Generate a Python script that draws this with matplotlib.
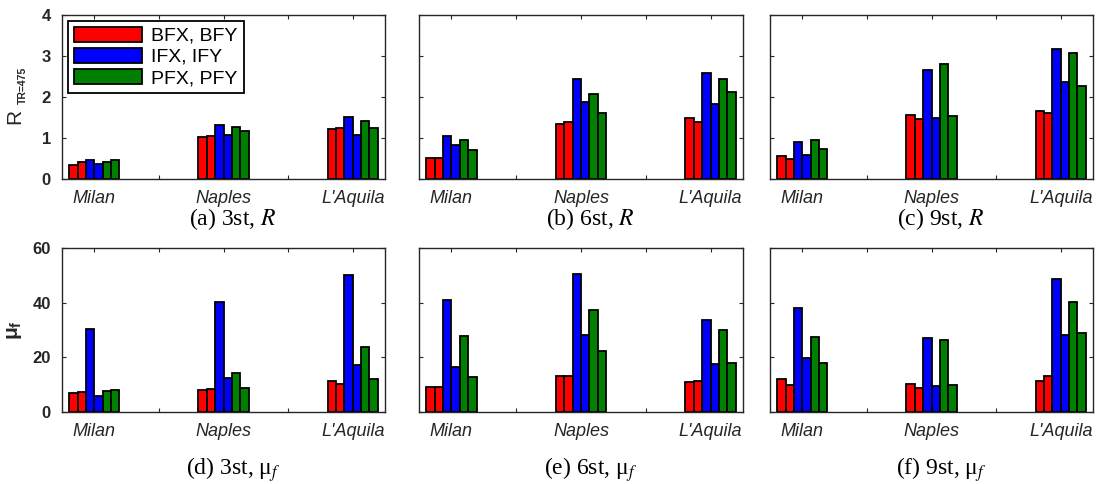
import matplotlib.pyplot as plt
import numpy as np
from matplotlib.patches import Patch

plt.rcParams['font.family'] = ['Liberation Sans', 'DejaVu Sans']
plt.rcParams['mathtext.fontset'] = 'custom'
plt.rcParams['mathtext.rm'] = 'Liberation Sans'
plt.rcParams['mathtext.it'] = 'Liberation Sans:italic'
plt.rcParams['mathtext.bf'] = 'Liberation Sans:bold'

###
# Data

cities = ['Milan', 'Naples', "L'Aquila"]
components = ['BFX', 'BFY', 'IFX', 'IFY', 'PFX', 'PFY']
legend_labels = ['BFX, BFY', 'IFX, IFY', 'PFX, PFY']

# R ratio, one row per city, columns in the order of components
r_3st = [[0.34, 0.41, 0.47, 0.37, 0.42, 0.47],
         [1.02, 1.06, 1.32, 1.07, 1.27, 1.18],
         [1.22, 1.25, 1.52, 1.07, 1.42, 1.24]]
r_6st = [[0.50, 0.51, 1.04, 0.82, 0.94, 0.70],
         [1.34, 1.38, 2.44, 1.88, 2.08, 1.60],
         [1.49, 1.40, 2.59, 1.83, 2.45, 2.12]]
r_9st = [[0.55, 0.48, 0.90, 0.59, 0.96, 0.74],
         [1.56, 1.47, 2.65, 1.48, 2.80, 1.54],
         [1.65, 1.60, 3.16, 2.36, 3.07, 2.26]]

# ductility demand mu_f
mu_3st = [[7.0, 7.3, 30.2, 6.0, 7.8, 8.2],
          [8.1, 8.3, 40.4, 12.4, 14.3, 8.6],
          [11.4, 10.3, 50.2, 17.1, 23.7, 12.0]]
mu_6st = [[9.2, 9.2, 41.0, 16.6, 27.8, 12.8],
          [13.0, 13.1, 50.5, 28.1, 37.2, 22.4],
          [11.1, 11.5, 33.5, 17.6, 30.1, 18.0]]
mu_9st = [[12.2, 9.8, 38.0, 19.6, 27.3, 18.0],
          [10.3, 8.6, 26.9, 9.4, 26.3, 9.7],
          [11.5, 13.2, 48.8, 28.1, 40.2, 28.9]]

panels = [
    (r_3st, '(a) 3st, $R$'), (r_6st, '(b) 6st, $R$'), (r_9st, '(c) 9st, $R$'),
    (mu_3st, '(d) 3st, μ$_f$'), (mu_6st, '(e) 6st, μ$_f$'), (mu_9st, '(f) 9st, μ$_f$'),
]

colors = ['#ff0000', '#ff0000', '#0000ff', '#0000ff', '#008000', '#008000']
textcol = '#262626'

###
# Plot

W, H = 1101, 484
fig = plt.figure(figsize=(W / 100, H / 100), dpi=100)

lefts = [62, 419, 770]
widths = [323, 324, 323]
tops = [15, 248]
height = 164

x = np.arange(1, len(cities) + 1)
bw = 0.065

for k, (vals, caption) in enumerate(panels):
    row, col = divmod(k, 3)
    ax = fig.add_axes([lefts[col] / W, 1 - (tops[row] + height) / H,
                       widths[col] / W, height / H])
    vals = np.array(vals)
    for j in range(len(components)):
        ax.bar(x + (j - 2.5) * bw, vals[:, j], width=bw, color=colors[j],
               edgecolor='black', linewidth=1.3, zorder=2)

    ax.set_xlim(0.75, 3.25)
    if row == 0:
        ax.set_ylim(0, 4)
        ax.set_yticks([0, 1, 2, 3, 4])
    else:
        ax.set_ylim(0, 60)
        ax.set_yticks([0, 20, 40, 60])
    ax.set_xticks([1, 1.5, 2, 2.5, 3], ['Milan', '', 'Naples', '', "L'Aquila"])
    ax.tick_params(axis='x', direction='in', top=True, length=3, pad=8,
                   labelsize=13, labelcolor=textcol, color=textcol)
    for lab in ax.get_xticklabels():
        lab.set_fontstyle('italic')
    ax.tick_params(axis='y', direction='in', right=True, length=3, pad=8,
                   labelsize=12, labelcolor=textcol, color=textcol)
    for lab in ax.get_yticklabels():
        lab.set_fontweight('bold')
    if col > 0:
        ax.set_yticklabels([])
    for s in ax.spines.values():
        s.set_color(textcol)
        s.set_linewidth(1.0)

    if col == 0 and row == 1:
        ax.set_ylabel('μ$_{\\mathbf{f}}$', fontsize=15, fontweight='bold',
                      color=textcol, labelpad=6)

    ax.text(0.53, -0.245 if row == 0 else -0.35, caption, transform=ax.transAxes,
            ha='center', va='center', fontsize=17, family='Liberation Serif',
            math_fontfamily='stix', color='black')

    if k == 0:
        handles = [Patch(facecolor=c, edgecolor='black', linewidth=1.3)
                   for c in ['#ff0000', '#0000ff', '#008000']]
        leg = ax.legend(handles, legend_labels, loc='upper left', fontsize=14,
                        handlelength=3.5, handleheight=0.8, fancybox=False,
                        framealpha=1, edgecolor='black', borderaxespad=0.3,
                        labelspacing=0.15, handletextpad=0.5, borderpad=0.3)
        leg.get_frame().set_linewidth(1.3)

# y label of the R row: large R with a small bold subscript
fig.text(15 / W, 1 - 116 / H, 'R', rotation=90, ha='center', va='center',
         fontsize=15, color=textcol)
fig.text(23 / W, 1 - 85 / H, 'TR=475', rotation=90, ha='center', va='center',
         fontsize=7.5, fontweight='bold', color=textcol)

fig.savefig('out.png', dpi=100)
